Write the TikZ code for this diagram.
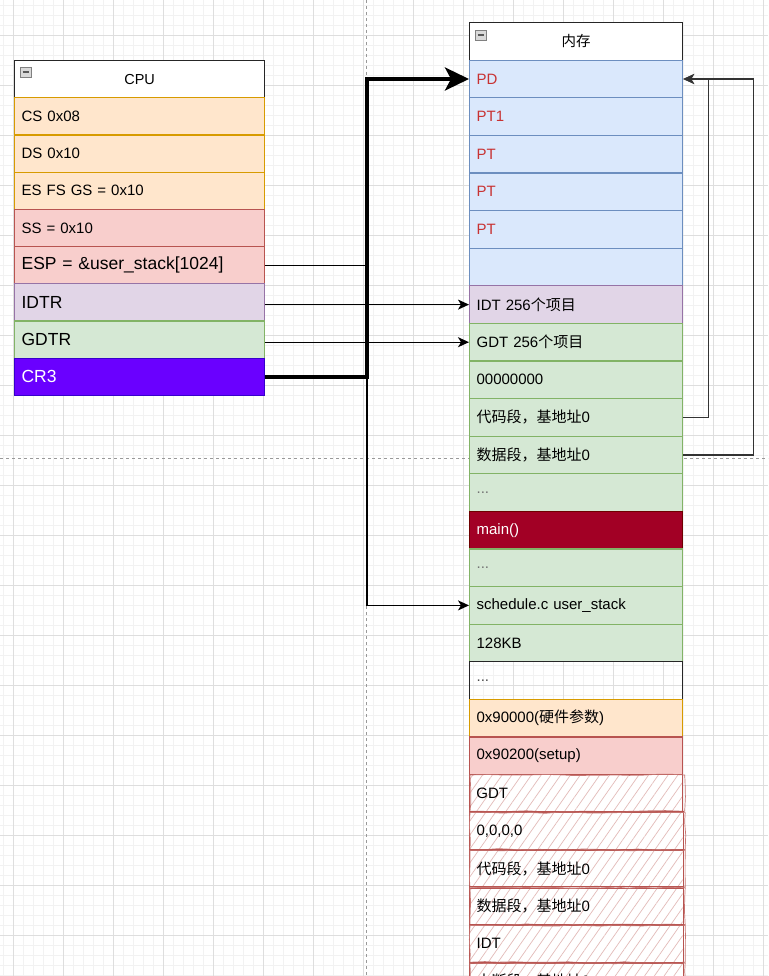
\documentclass[tikz,border=0pt]{standalone}
\usepackage{fontspec}
\setmainfont{Liberation Sans}
\newfontfamily\cjk{Noto Sans CJK SC}
\newcommand{\zh}[1]{{\cjk #1}}
\usetikzlibrary{arrows.meta,patterns.meta,decorations.pathmorphing}
\definecolor{orF}{HTML}{FFE6CC}\definecolor{orD}{HTML}{D79B00}
\definecolor{rdF}{HTML}{F8CECC}\definecolor{rdD}{HTML}{B85450}
\definecolor{puF}{HTML}{E1D5E7}\definecolor{puD}{HTML}{9673A6}
\definecolor{grF}{HTML}{D5E8D4}\definecolor{grD}{HTML}{82B366}
\definecolor{blF}{HTML}{DAE8FC}\definecolor{blD}{HTML}{6C8EBF}
\definecolor{viF}{HTML}{6A00FF}\definecolor{viD}{HTML}{3700CC}
\definecolor{mnF}{HTML}{A20025}\definecolor{mnD}{HTML}{6F0000}
\definecolor{txR}{HTML}{C83232}
\definecolor{gridMinor}{HTML}{F2F2F2}
\definecolor{gridMajor}{HTML}{DEDEDE}
\begin{document}
\begin{tikzpicture}[x=1pt,y=-1pt,
  cpucell/.style={draw, line width=1.2pt, anchor=north west, minimum width=250pt,
    minimum height=37.2pt, text width=236pt, inner xsep=7pt, inner ysep=0pt,
    align=left, font=\fontsize{15}{18}\selectfont},
  bigtxt/.style={font=\fontsize{17.5}{20}\selectfont},
  memcell/.style={draw, line width=1.2pt, anchor=north west, minimum width=213pt,
    minimum height=37.6pt, text width=199pt, inner xsep=7pt, inner ysep=0pt,
    align=left, font=\fontsize{15}{18}\selectfont},
  head/.style={align=center, fill=white, draw=black!85, font=\fontsize{14.5}{17}\selectfont},
  blue/.style={fill=blF, draw=blD, text=txR},
  green/.style={fill=grF, draw=grD},
  orange/.style={fill=orF, draw=orD},
  pink/.style={fill=rdF, draw=rdD},
  purple/.style={fill=puF, draw=puD},
  hatch/.style={draw=none, preaction={fill=white},
    pattern={Lines[angle=55,distance=8pt,line width=0.7pt]}, pattern color=rdD!40},
  sketch/.style={draw=rdD, line width=0.9pt},
  sketchb/.style={draw=rdD!80, line width=0.7pt, decorate,
    decoration={random steps, segment length=14pt, amplitude=0.8pt}},
  dots/.style={text=black!55},
  conn/.style={draw=black, line width=1.4pt, -{Stealth[length=11pt,width=10pt,inset=3pt]}},
  rconn/.style={draw=black!80, line width=1.3pt, -{Stealth[length=11pt,width=10pt,inset=3pt]}},
  bigconn/.style={draw=black, line width=4pt, -{Stealth[length=24pt,width=23pt,inset=6pt]}},
  guide/.style={draw=black!40, line width=0.8pt, dash pattern=on 3pt off 3pt},
  icon/.style={fill=black!15, draw=black!50, line width=0.8pt},
]
\useasboundingbox (0,0) rectangle (768,976);
\clip (0,0) rectangle (768,976);
\fill[white] (0,0) rectangle (768,976);
% grid
\foreach \x in {3.5,13.5,...,768} \draw[gridMinor, line width=0.8pt] (\x,0) -- (\x,976);
\foreach \y in {5,15,...,976} \draw[gridMinor, line width=0.8pt] (0,\y) -- (768,\y);
\foreach \x in {13.5,63.5,...,768} \draw[gridMajor, line width=0.9pt] (\x,0) -- (\x,976);
\foreach \y in {35,85,...,976} \draw[gridMajor, line width=0.9pt] (0,\y) -- (768,\y);
% guides
\draw[guide] (366,0) -- (366,976);
\draw[guide] (0,458) -- (768,458);
\coordinate (vg) at (367,0);

% CPU
\node[cpucell, head] (cpuh) at (14,60) {CPU};
\node[cpucell, orange] (cs) at (14,97.2) {CS 0x08};
\node[cpucell, orange] (ds) at (14,134.4) {DS 0x10};
\node[cpucell, orange] (es) at (14,171.6) {ES FS GS = 0x10};
\node[cpucell, pink] (ss) at (14,208.8) {SS = 0x10};
\node[cpucell, pink, bigtxt] (esp) at (14,246) {ESP = \&user\_stack[1024]};
\node[cpucell, purple, bigtxt] (idtr) at (14,283.2) {IDTR};
\node[cpucell, green, bigtxt] (gdtr) at (14,320.4) {GDTR};
\node[cpucell, fill=viF, draw=viD, text=white, bigtxt] (cr3) at (14,357.6) {CR3};
\draw[icon] (20,67) rectangle (31,77);
\draw[black!65, line width=1.3pt] (22.5,72) -- (28.5,72);

% Memory
\node[memcell, head] (memh) at (469,22) {\zh{内存}};
\node[memcell, blue] (pd) at (469,{22+37.6*1}) {PD};
\node[memcell, blue] (pt1) at (469,{22+37.6*2}) {PT1};
\node[memcell, blue] (pt2) at (469,{22+37.6*3}) {PT};
\node[memcell, blue] (pt3) at (469,{22+37.6*4}) {PT};
\node[memcell, blue] (pt4) at (469,{22+37.6*5}) {PT};
\node[memcell, blue] (pt5) at (469,{22+37.6*6}) {};
\node[memcell, purple] (idt) at (469,{22+37.6*7}) {IDT 256\zh{个项目}};
\node[memcell, green] (gdt) at (469,{22+37.6*8}) {GDT 256\zh{个项目}};
\node[memcell, green] (nul) at (469,{22+37.6*9}) {00000000};
\node[memcell, green] (code1) at (469,{22+37.6*10}) {\zh{代码段，基地址}0};
\node[memcell, green] (data1) at (469,{22+37.6*11}) {\zh{数据段，基地址}0};
\node[memcell, green, dots] (dot1) at (469,{22+37.6*12}) {...};
\node[memcell, fill=mnF, draw=mnD, text=white] (mainr) at (469,{22+37.6*13}) {main()};
\node[memcell, green, dots] (dot2) at (469,{22+37.6*14}) {...};
\node[memcell, green] (stack) at (469,{22+37.6*15}) {schedule.c user\_stack};
\node[memcell, green] (kb) at (469,{22+37.6*16}) {128KB};
\node[memcell, draw=black!85, text=black!70] (dot3) at (469,{22+37.6*17}) {...};
\node[memcell, orange] (hw) at (469,{22+37.6*18}) {0x90000(\zh{硬件参数})};
\node[memcell, pink] (setup) at (469,{22+37.6*19}) {0x90200(setup)};
\node[memcell, hatch] (h1) at (469,{22+37.6*20}) {GDT};
\node[memcell, hatch] (h2) at (469,{22+37.6*21}) {0,0,0,0};
\node[memcell, hatch] (h3) at (469,{22+37.6*22}) {\zh{代码段，基地址}0};
\node[memcell, hatch] (h4) at (469,{22+37.6*23}) {\zh{数据段，基地址}0};
\node[memcell, hatch] (h5) at (469,{22+37.6*24}) {IDT};
\node[memcell, hatch] (h6) at (469,{22+37.6*25}) {\zh{中断段，基地址}0};
\foreach \n in {h1,h2,h3,h4,h5,h6} {
  \draw[sketch] (\n.north west) rectangle (\n.south east);
  \draw[sketchb] ([xshift=1pt,yshift=-1pt]\n.north west) rectangle ([xshift=2pt,yshift=1pt]\n.south east);
}
\draw[icon] (475,30) rectangle (486,40);
\draw[black!65, line width=1.3pt] (477.5,35) -- (483.5,35);

% connectors
\draw[conn] (esp.east) -- (esp.east -| vg) |- (stack.west);
\draw[conn] (idtr.east |- idt.west) -- (idt.west);
\draw[conn] (gdtr.east |- gdt.west) -- (gdt.west);
\draw[bigconn] (cr3.east) -- (cr3.east -| vg) |- (pd.west);
\draw[rconn] (code1.east) -- ++(25,0) |- (pd.east);
\draw[rconn] (data1.east) -- ++(70,0) |- (pd.east);
\end{tikzpicture}
\end{document}
